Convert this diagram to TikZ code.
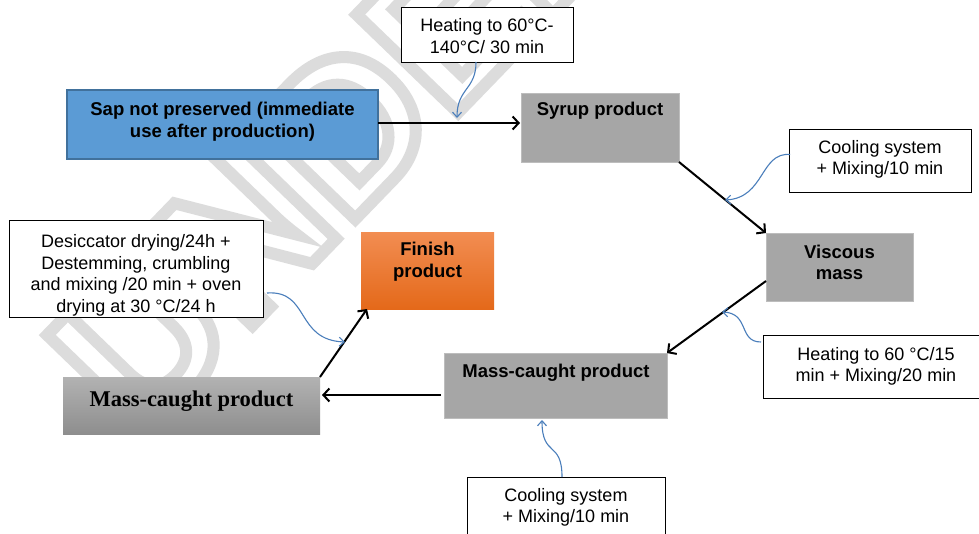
\documentclass[tikz,border=0pt]{standalone}
\usepackage{fontspec}
\setmainfont{Liberation Sans}
\newfontfamily\tnr{Liberation Serif}
\newfontfamily\wmfont{Liberation Sans}
\usetikzlibrary{arrows.meta,calc}
\definecolor{sapfill}{HTML}{5B9BD5}
\definecolor{sapdraw}{HTML}{41719C}
\definecolor{boxgrey}{HTML}{A6A6A6}
\definecolor{boxgreyline}{HTML}{BDBDBD}
\definecolor{linkblue}{HTML}{4A7EBB}
\definecolor{orangetop}{HTML}{F28D52}
\definecolor{orangemid}{HTML}{F27B2B}
\definecolor{orangebot}{HTML}{E4691A}
\definecolor{mtop}{HTML}{B2B2B2}
\definecolor{mbot}{HTML}{8E8E8E}
\definecolor{wmgrey}{HTML}{DCDCDC}
\begin{document}
\begin{tikzpicture}[x=1pt,y=-1pt,
  box/.style={rectangle, inner sep=0pt, outer sep=0pt},
  txt/.style={font=\fontsize{18}{21.6}\selectfont, align=center, inner sep=0pt},
  btxt/.style={font=\fontsize{18.5}{21.5}\selectfont\bfseries, align=center, inner sep=0pt},
  flow/.style={line width=2pt, -{Straight Barb[length=6pt,width=13pt]}},
  note/.style={draw=linkblue, line width=1.1pt, -{Straight Barb[length=5pt,width=9pt]}},
  whitebox/.style={box, draw=black, line width=0.9pt, fill=white},
  greybox/.style={box, fill=boxgrey, draw=boxgreyline, line width=0.6pt}]

\clip (0,0) rectangle (979,533);
\fill[white] (0,0) rectangle (979,533);

% watermark
\node[rotate=46, anchor=base west, inner sep=0pt, text=wmgrey,
      font=\wmfont\bfseries\fontsize{205}{205}\selectfont] (wm) at (140,442)
  {\special{pdf:literal direct q 1 Tr 12 w}UNDER REVIEW\special{pdf:literal direct Q}};

% boxes
\node[box, fill=sapfill, draw=sapdraw, line width=1.5pt, minimum width=311pt, minimum height=69pt] (sap) at (222.5,124.5) {};
\node[btxt] (saptxt) at (222.5,121.5) {Sap not preserved (immediate\\use after production)};

\node[whitebox, minimum width=172pt, minimum height=55pt] (heat1) at (487,34.5) {};
\node[txt] (heat1txt) at (487,36) {Heating to 60°C-\\140°C/ 30 min};

\node[greybox, minimum width=158pt, minimum height=69pt] (syrup) at (600,127.5) {};
\node[btxt] (syruptxt) at (600,110.5) {Syrup product};

\node[whitebox, minimum width=182pt, minimum height=63pt] (cool1) at (880,160.5) {};
\node[txt] (cool1txt) at (880,159.5) {Cooling system\\+ Mixing/10 min};

\node[greybox, minimum width=147pt, minimum height=68pt] (visc) at (839.5,267) {};
\node[btxt] (visctxt) at (839.5,262.5) {Viscous\\mass};

\node[whitebox, minimum width=229pt, minimum height=63pt] (heat2) at (877.5,366.5) {};
\node[txt] (heat2txt) at (876,366.5) {Heating to 60 °C/15\\min + Mixing/20 min};

\node[greybox, minimum width=223pt, minimum height=65pt] (massR) at (555.5,385.5) {};
\node[btxt] (massRtxt) at (556,372.5) {Mass-caught product};

\node[whitebox, minimum width=198pt, minimum height=68pt] (cool2) at (566,511) {};
\node[txt] (cool2txt) at (566,507.5) {Cooling system\\+ Mixing/10 min};

\node[box, top color=orangetop, middle color=orangemid, bottom color=orangebot, minimum width=133pt, minimum height=77pt] (finish) at (427.5,270.5) {};
\node[btxt] (finishtxt) at (427.5,261.5) {Finish\\product};

\node[whitebox, minimum width=254pt, minimum height=97pt] (desic) at (136,268.5) {};
\begin{scope}
  \clip (desic.south west) rectangle (desic.north east);
  \node[txt] (desictxt) at (136,275.5) {Desiccator drying/24h +\\Destemming, crumbling\\and mixing /20 min + oven\\drying at 30 °C/24 h};
\end{scope}

\node[box, top color=mtop, bottom color=mbot, minimum width=257pt, minimum height=57pt] (massL) at (191.5,405.5) {};
\node[font=\tnr\bfseries\fontsize{22.5}{26}\selectfont, inner sep=0pt] (massLtxt) at (191.5,401) {Mass-caught product};

% main flow
\draw[flow] ($(sap.east)+(0,-1.5)$) -- ($(sap.east -| syrup.west)+(-1,-1.5)$);
\draw[flow] (syrup.south east) -- (visc.north west);
\draw[flow] ($(visc.west)+(0,14)$) -- (massR.north east);
\draw[flow] ($(massR.west)+(-3,9.5)$) -- ($(massR.west -| massL.east)+(2,9.5)$);
\draw[flow] (massL.north east) -- ($(finish.south west)+(6,0)$);

% annotation links
\coordinate (h1e) at (457,118);
\draw[note] ($(heat1.south)+(-11,0)$) .. controls (476,90) and (457,88) .. (h1e);
\coordinate (c1e) at (725,200);
\draw[note] ($(cool1.west)+(1,-6)$) .. controls (760,152) and (765,198) .. (c1e);
\coordinate (h2e) at (722,312);
\draw[note] ($(heat2.west)+(-2,-24.5)$) .. controls (738,342) and (750,313) .. (h2e);
\coordinate (c2e) at (542,420);
\draw[note] ($(cool2.north)+(-4,0)$) .. controls (562,440) and (542,458) .. (c2e);
\coordinate (de) at (345,342);
\draw[note] ($(desic.east)+(4,24.5)$) .. controls (310,290) and (295,340) .. (de);
\end{tikzpicture}
\end{document}
